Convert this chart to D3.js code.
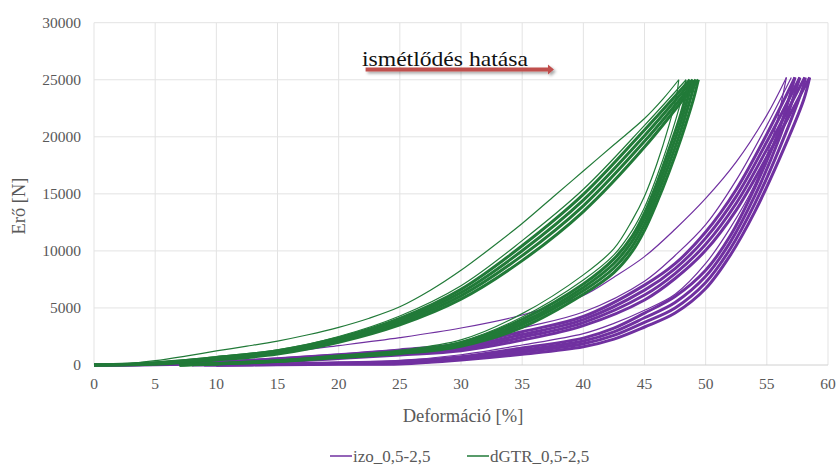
<!DOCTYPE html>
<html>
<head>
<meta charset="utf-8">
<script src="https://cdn.jsdelivr.net/npm/d3@7"></script>
<style>
  body { margin: 0; background: #fff; }
</style>
</head>
<body>
<div id="chart"></div>
<script>
/**
 * Data (deformation %, force N)
 */
var xTicks = [0, 5, 10, 15, 20, 25, 30, 35, 40, 45, 50, 55, 60];
var yTicks = [0, 5000, 10000, 15000, 20000, 25000, 30000];
var seriesNames = ["izo_0,5-2,5", "dGTR_0,5-2,5"];
var seriesColors = ["#7030a0", "#217a38"];

// izo: first cycles (thin, separate lines)
var izoLoad1 = [[0,0],[5,230],[10,580],[15,1050],[20,1700],[25,2400],[30,3240],[35,4380],[40,6100],[42.5,7700],[45,9500],[47.5,11900],[50,14600],[52.5,17800],[55,21900],[56.6,25200]];
var izoUnload1 = [[56.6,25200],[55.5,20000],[54,15800],[52,12000],[50,8900],[47.5,6200],[45,4800],[42.5,3650],[40,2750],[35,1750],[30,900],[25,400],[20,220],[15,90],[10,10],[8,0]];
var izoLoad2 = [[0,0],[5,90],[10,310],[15,620],[20,980],[25,1400],[30,1950],[35,3250],[40,4650],[45,7350],[47.5,9600],[50,12300],[52.5,16200],[55,21000],[57,25200]];
// izo: later cycles (bundle)
var izoLoadA = [[0,0],[5,70],[10,250],[15,520],[20,870],[25,1280],[30,1750],[35,2920],[40,4250],[45,7000],[47.5,8880],[50,11650],[52.5,15380],[55,20230],[57.3,25200]];
var izoLoadB = [[0,0],[5,55],[10,205],[15,440],[20,770],[25,1150],[30,1580],[35,2670],[40,3980],[45,6560],[47.5,8450],[50,11120],[52.5,14780],[55,19560],[57.7,25200]];
var izoLoadC = [[0,0],[5,35],[10,155],[15,360],[20,670],[25,1010],[30,1420],[35,2430],[40,3720],[45,6130],[47.5,8010],[50,10580],[52.5,14180],[55,18900],[58.1,25200]];
var izoLoadD = [[0,0],[5,20],[10,110],[15,280],[20,570],[25,880],[30,1250],[35,2180],[40,3450],[45,5700],[47.5,7580],[50,10050],[52.5,13580],[55,18230],[58.5,25200]];
var izoUnloadA = [[57.3,25200],[56,20600],[54,15500],[52,11300],[50,8300],[47.5,6000],[45,4550],[42.5,3230],[40,2355],[35,1495],[30,725],[25,300],[20,190],[15,80],[10,10],[8,0]];
var izoUnloadB = [[57.7,25200],[56,19800],[54,14800],[52,10750],[50,7770],[47.5,5480],[45,4140],[42.5,2910],[40,2105],[35,1310],[30,630],[25,230],[20,145],[15,55],[10,5],[9,0]];
var izoUnloadC = [[58.15,25200],[58,24500],[56,18900],[54,14100],[52,10170],[50,7230],[47.5,5000],[45,3740],[42.5,2590],[40,1855],[35,1130],[30,530],[25,160],[20,100],[15,40],[10,0]];
var izoUnloadD = [[58.5,25200],[58,23200],[56,18000],[54,13400],[52,9600],[50,6700],[47.5,4550],[45,3330],[42.5,2270],[40,1605],[35,945],[30,435],[25,90],[20,60],[15,20],[10,0]];

// dGTR: first cycles (thin, separate lines)
var gtrLoad1 = [[0,0],[2.5,100],[5,380],[7.5,780],[10,1230],[12.5,1650],[15,2100],[17.5,2650],[20,3300],[22.5,4100],[25,5100],[27.5,6550],[30,8300],[32.5,10300],[35,12400],[37.5,14700],[40,17000],[42.5,19300],[45,21600],[46.5,23300],[47.8,25000]];
var gtrUnload1 = [[47.8,25000],[47.6,23500],[47,21000],[46,17600],[45,14800],[44,12700],[42.5,10200],[40,7900],[35,4500],[30,2200],[25,1300],[20,850],[15,420],[10,150],[7,0]];
var gtrLoad2 = [[0,0],[5,240],[10,730],[15,1330],[20,2500],[25,4300],[30,6950],[35,10900],[40,15400],[45,21000],[48.4,25000]];
var gtrUnload2 = [[48.4,25000],[48,23200],[47,19600],[46,16500],[45,13800],[44,11800],[42.5,9650],[40,7450],[35,4200],[30,2050],[25,1200],[20,800],[15,400],[10,130],[7,0]];
// dGTR: later cycles (bundle)
var gtrLoadA = [[0,0],[5,200],[10,665],[15,1245],[20,2370],[25,4080],[30,6630],[35,10450],[40,14950],[45,20600],[48.7,25000]];
var gtrLoadB = [[0,0],[5,155],[10,590],[15,1150],[20,2245],[25,3895],[30,6345],[35,10015],[40,14450],[45,20100],[48.95,25000]];
var gtrLoadC = [[0,0],[5,105],[10,510],[15,1050],[20,2120],[25,3710],[30,6060],[35,9585],[40,13950],[45,19600],[49.2,25000]];
var gtrLoadD = [[0,0],[5,60],[10,435],[15,955],[20,1990],[25,3520],[30,5770],[35,9150],[40,13450],[45,19100],[49.4,25000]];
var gtrUnloadA = [[48.7,25000],[48,22100],[47,18900],[46,15900],[45,13300],[44,11300],[42.5,9300],[40,7100],[35,4000],[30,1950],[25,1150],[20,780],[15,380],[10,130],[7,0]];
var gtrUnloadB = [[48.95,25000],[48,21370],[47,18230],[46,15330],[45,12800],[44,10850],[42.5,8900],[40,6800],[35,3750],[30,1850],[25,1100],[20,735],[15,355],[10,115],[7,0]];
var gtrUnloadC = [[49.2,25000],[48,20630],[47,17570],[46,14770],[45,12300],[44,10400],[42.5,8500],[40,6500],[35,3530],[30,1750],[25,1050],[20,690],[15,325],[10,95],[7,0]];
var gtrUnloadD = [[49.4,25000],[49,23300],[48,19900],[47,16900],[46,14200],[45,11800],[44,9950],[42.5,8100],[40,6200],[35,3300],[30,1650],[25,1000],[20,650],[15,300],[10,80],[7,0]];

// annotation
var noteText = "ismétlődés hatása";
var noteArrow = [[22.2, 25900], [37.6, 25900]];

/**
 * Setup
 */
var W = 836, H = 466;
var plot = { l: 94, r: 828, t: 22.7, b: 365 };
var serif = "'Liberation Serif', 'DejaVu Serif', serif";
var textColor = "#595959";

var x = d3.scaleLinear().domain([0, 60]).range([plot.l, plot.r]);
var y = d3.scaleLinear().domain([0, 30000]).range([plot.b, plot.t]);

var svg = d3.select("#chart").append("svg")
  .attr("width", W)
  .attr("height", H)
  .attr("font-family", serif);

var defs = svg.append("defs");
var shadow = defs.append("filter").attr("id", "shadow")
  .attr("x", "-10%").attr("y", "-100%").attr("width", "130%").attr("height", "400%");
shadow.append("feDropShadow")
  .attr("dx", 2).attr("dy", 2).attr("stdDeviation", 1.5)
  .attr("flood-color", "#000").attr("flood-opacity", 0.35);

// grid
svg.append("g").selectAll("line").data(xTicks).join("line")
  .attr("x1", d => x(d)).attr("x2", d => x(d))
  .attr("y1", plot.t).attr("y2", plot.b)
  .attr("stroke", "#e3e3e3").attr("stroke-width", 1);

svg.append("g").selectAll("line").data(yTicks).join("line")
  .attr("x1", plot.l).attr("x2", plot.r)
  .attr("y1", d => y(d)).attr("y2", d => y(d))
  .attr("stroke", d => d === 0 ? "#d0d0d0" : "#e3e3e3").attr("stroke-width", 1);

// tick labels
svg.append("g").selectAll("text").data(yTicks).join("text")
  .attr("x", 81).attr("y", d => y(d)).attr("dy", "0.35em")
  .attr("text-anchor", "end")
  .attr("font-size", 15.5).attr("fill", textColor)
  .text(d => d);

svg.append("g").selectAll("text").data(xTicks).join("text")
  .attr("x", d => x(d)).attr("y", 389)
  .attr("text-anchor", "middle")
  .attr("font-size", 15.5).attr("fill", textColor)
  .text(d => d);

// axis titles
svg.append("text")
  .attr("x", (plot.l + plot.r) / 2 + 2).attr("y", 422)
  .attr("text-anchor", "middle")
  .attr("font-size", 18.5).attr("fill", textColor)
  .text("Deformáció [%]");

svg.append("text")
  .attr("transform", "translate(25,206) rotate(-90)")
  .attr("text-anchor", "middle")
  .attr("font-size", 18.5).attr("fill", textColor)
  .text("Erő [N]");

/**
 * Curves
 */
var line = d3.line()
  .x(d => x(d[0]))
  .y(d => y(d[1]))
  .curve(d3.curveCatmullRom.alpha(0.5));

var bundleW = 3, thinW = 1.2;
var curves = [
  // izo
  { data: izoLoadD, c: 0, w: bundleW }, { data: izoLoadC, c: 0, w: bundleW },
  { data: izoLoadB, c: 0, w: bundleW }, { data: izoLoadA, c: 0, w: bundleW },
  { data: izoUnloadD, c: 0, w: bundleW }, { data: izoUnloadC, c: 0, w: bundleW },
  { data: izoUnloadB, c: 0, w: bundleW }, { data: izoUnloadA, c: 0, w: bundleW },
  { data: izoLoad2, c: 0, w: thinW }, { data: izoUnload1, c: 0, w: thinW },
  { data: izoLoad1, c: 0, w: thinW },
  // dGTR
  { data: gtrLoadD, c: 1, w: bundleW }, { data: gtrLoadC, c: 1, w: bundleW },
  { data: gtrLoadB, c: 1, w: bundleW }, { data: gtrLoadA, c: 1, w: bundleW },
  { data: gtrUnloadD, c: 1, w: bundleW }, { data: gtrUnloadC, c: 1, w: bundleW },
  { data: gtrUnloadB, c: 1, w: bundleW }, { data: gtrUnloadA, c: 1, w: bundleW },
  { data: gtrLoad2, c: 1, w: thinW }, { data: gtrUnload2, c: 1, w: thinW },
  { data: gtrUnload1, c: 1, w: thinW }, { data: gtrLoad1, c: 1, w: thinW }
];

svg.append("g").selectAll("path").data(curves).join("path")
  .attr("d", d => line(d.data))
  .attr("fill", "none")
  .attr("stroke", d => seriesColors[d.c])
  .attr("stroke-width", d => d.w)
  .attr("stroke-linejoin", "round");

/**
 * Annotation: text + arrow
 */
var ax0 = x(noteArrow[0][0]), ax1 = x(noteArrow[1][0]), ay = y(noteArrow[0][1]);
svg.append("path")
  .attr("d", "M" + ax0 + "," + (ay - 2) + "H" + (ax1 - 6) + "V" + (ay - 5) +
    "L" + ax1 + "," + ay + "L" + (ax1 - 6) + "," + (ay + 5) + "V" + (ay + 2) + "H" + ax0 + "Z")
  .attr("fill", "#c0504d")
  .attr("filter", "url(#shadow)");

svg.append("text")
  .attr("x", 362).attr("y", 65.5)
  .attr("textLength", 166).attr("lengthAdjust", "spacingAndGlyphs")
  .attr("font-family", "'Palatino Linotype','Book Antiqua',Palatino,'Liberation Serif',serif")
  .attr("font-size", 22).attr("fill", "#111")
  .text(noteText);

/**
 * Legend
 */
var legendX = [330, 467];
var lg = svg.append("g").selectAll("g").data(seriesNames).join("g")
  .attr("transform", (d, i) => "translate(" + legendX[i] + ",456)");
lg.append("line").attr("x1", 0).attr("x2", 22).attr("y1", 0).attr("y2", 0)
  .attr("stroke", (d, i) => seriesColors[i]).attr("stroke-width", 1.5);
lg.append("text").attr("x", 23).attr("dy", "0.35em")
  .attr("font-size", 17).attr("fill", textColor)
  .text(d => d);
</script>
</body>
</html>
